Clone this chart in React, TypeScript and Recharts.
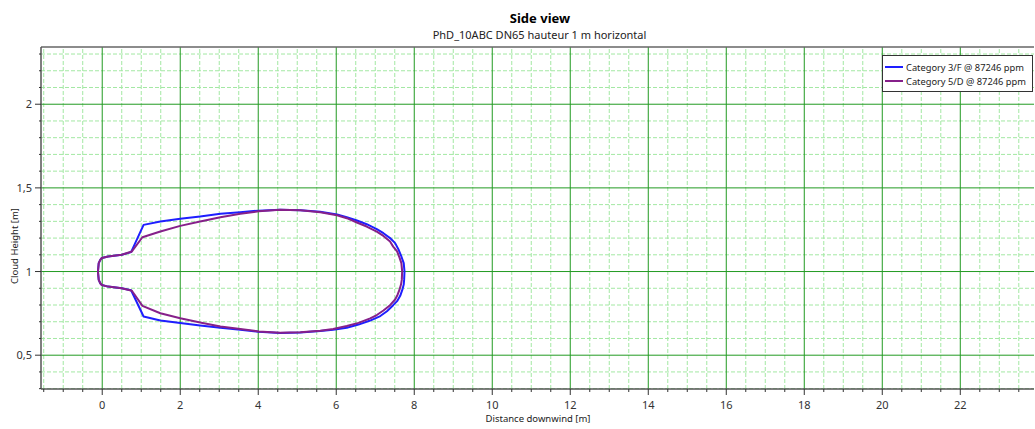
import React from 'react';
import { ComposedChart, Line, XAxis, YAxis, ReferenceLine, Legend } from 'recharts';

const FONT = '"Noto Sans", "Open Sans", sans-serif';

const X_MIN = -1.57;
const X_MAX = 23.89;
const Y_MIN = 0.298;
const Y_MAX = 2.342;

const xTicks = [-1.5, -1, -0.5, 0, 0.5, 1, 1.5, 2, 2.5, 3, 3.5, 4, 4.5, 5, 5.5, 6, 6.5, 7, 7.5, 8, 8.5, 9, 9.5, 10, 10.5, 11, 11.5, 12, 12.5, 13, 13.5, 14, 14.5, 15, 15.5, 16, 16.5, 17, 17.5, 18, 18.5, 19, 19.5, 20, 20.5, 21, 21.5, 22, 22.5, 23, 23.5];
const xLabelTicks = [0, 2, 4, 6, 8, 10, 12, 14, 16, 18, 20, 22];
const yTicks = [0.3, 0.4, 0.5, 0.6, 0.7, 0.8, 0.9, 1, 1.1, 1.2, 1.3, 1.4, 1.5, 1.6, 1.7, 1.8, 1.9, 2, 2.1, 2.2, 2.3];
const yLabelTicks = [0.5, 1, 1.5, 2];

const xMinorGrid = xTicks.filter((v) => !xLabelTicks.includes(v));
const yMinorGrid = yTicks.filter((v) => !yLabelTicks.includes(v));

const seriesNames = ['Category 3/F @ 87246 ppm', 'Category 5/D @ 87246 ppm'];
const seriesColors = ['#1e1eff', '#86208a'];

const category3F = [
  { x: -0.11, y: 1.0 },
  { x: -0.09, y: 1.05 },
  { x: -0.05, y: 1.07 },
  { x: -0.01, y: 1.081 },
  { x: 0.15, y: 1.09 },
  { x: 0.5, y: 1.1 },
  { x: 0.74, y: 1.116 },
  { x: 1.06, y: 1.279 },
  { x: 1.49, y: 1.299 },
  { x: 2.0, y: 1.315 },
  { x: 2.51, y: 1.329 },
  { x: 3.03, y: 1.345 },
  { x: 3.54, y: 1.355 },
  { x: 4.01, y: 1.364 },
  { x: 4.56, y: 1.369 },
  { x: 5.08, y: 1.366 },
  { x: 5.59, y: 1.357 },
  { x: 6.02, y: 1.341 },
  { x: 6.27, y: 1.325 },
  { x: 6.53, y: 1.305 },
  { x: 6.78, y: 1.283 },
  { x: 7.04, y: 1.253 },
  { x: 7.21, y: 1.229 },
  { x: 7.38, y: 1.2 },
  { x: 7.51, y: 1.17 },
  { x: 7.6, y: 1.13 },
  { x: 7.67, y: 1.09 },
  { x: 7.73, y: 1.05 },
  { x: 7.75, y: 1.0 },
  { x: 7.74, y: 0.95 },
  { x: 7.73, y: 0.922 },
  { x: 7.7, y: 0.895 },
  { x: 7.64, y: 0.855 },
  { x: 7.56, y: 0.823 },
  { x: 7.46, y: 0.799 },
  { x: 7.3, y: 0.763 },
  { x: 7.13, y: 0.734 },
  { x: 6.87, y: 0.707 },
  { x: 6.57, y: 0.683 },
  { x: 6.27, y: 0.664 },
  { x: 5.92, y: 0.652 },
  { x: 5.59, y: 0.644 },
  { x: 5.08, y: 0.636 },
  { x: 4.56, y: 0.633 },
  { x: 4.01, y: 0.64 },
  { x: 3.54, y: 0.652 },
  { x: 3.03, y: 0.664 },
  { x: 2.51, y: 0.677 },
  { x: 2.0, y: 0.692 },
  { x: 1.49, y: 0.707 },
  { x: 1.06, y: 0.731 },
  { x: 0.74, y: 0.888 },
  { x: 0.5, y: 0.9 },
  { x: 0.15, y: 0.91 },
  { x: -0.01, y: 0.919 },
  { x: -0.05, y: 0.93 },
  { x: -0.09, y: 0.95 },
  { x: -0.11, y: 1.0 },
];

const category5D = [
  { x: -0.11, y: 1.0 },
  { x: -0.09, y: 1.05 },
  { x: -0.05, y: 1.07 },
  { x: -0.01, y: 1.081 },
  { x: 0.15, y: 1.09 },
  { x: 0.5, y: 1.1 },
  { x: 0.76, y: 1.12 },
  { x: 1.03, y: 1.205 },
  { x: 1.49, y: 1.239 },
  { x: 2.0, y: 1.273 },
  { x: 2.51, y: 1.299 },
  { x: 3.03, y: 1.325 },
  { x: 3.54, y: 1.345 },
  { x: 4.01, y: 1.36 },
  { x: 4.56, y: 1.369 },
  { x: 5.08, y: 1.366 },
  { x: 5.59, y: 1.355 },
  { x: 6.02, y: 1.336 },
  { x: 6.27, y: 1.319 },
  { x: 6.53, y: 1.293 },
  { x: 6.78, y: 1.269 },
  { x: 7.04, y: 1.239 },
  { x: 7.21, y: 1.213 },
  { x: 7.38, y: 1.179 },
  { x: 7.46, y: 1.149 },
  { x: 7.56, y: 1.12 },
  { x: 7.62, y: 1.085 },
  { x: 7.67, y: 1.05 },
  { x: 7.69, y: 1.0 },
  { x: 7.68, y: 0.95 },
  { x: 7.66, y: 0.922 },
  { x: 7.62, y: 0.89 },
  { x: 7.57, y: 0.86 },
  { x: 7.51, y: 0.833 },
  { x: 7.38, y: 0.799 },
  { x: 7.21, y: 0.767 },
  { x: 7.04, y: 0.74 },
  { x: 6.87, y: 0.72 },
  { x: 6.57, y: 0.693 },
  { x: 6.27, y: 0.674 },
  { x: 5.92, y: 0.657 },
  { x: 5.59, y: 0.646 },
  { x: 5.08, y: 0.637 },
  { x: 4.56, y: 0.634 },
  { x: 4.01, y: 0.642 },
  { x: 3.54, y: 0.656 },
  { x: 3.03, y: 0.671 },
  { x: 2.51, y: 0.695 },
  { x: 2.0, y: 0.721 },
  { x: 1.49, y: 0.751 },
  { x: 1.03, y: 0.795 },
  { x: 0.76, y: 0.885 },
  { x: 0.5, y: 0.9 },
  { x: 0.15, y: 0.91 },
  { x: -0.01, y: 0.919 },
  { x: -0.05, y: 0.93 },
  { x: -0.09, y: 0.95 },
  { x: -0.11, y: 1.0 },
];

const seriesData = [category3F, category5D];

const fmt = (v: number) => String(v).replace('.', ',');

const XTick = (props: any) => {
  const { x, y, payload } = props;
  const v = payload.value;
  const major = xLabelTicks.includes(v);
  return (
    <g>
      <line x1={x} x2={x} y1={y} y2={y + (major ? 6 : 3)} stroke="#333" strokeWidth={1} />
      {major && (
        <text x={x} y={y + 20} textAnchor="middle" fontSize={11} fill="#333" fontFamily={FONT}>
          {fmt(v)}
        </text>
      )}
    </g>
  );
};

const YTick = (props: any) => {
  const { x, y, payload } = props;
  const v = payload.value;
  const major = yLabelTicks.includes(v);
  return (
    <g>
      <line x1={x - (major ? 6 : 2)} x2={x} y1={y} y2={y} stroke="#333" strokeWidth={1} />
      {major && (
        <text x={x - 9} y={y + 4} textAnchor="end" fontSize={11} fill="#333" fontFamily={FONT}>
          {fmt(v)}
        </text>
      )}
    </g>
  );
};

const renderLegend = () => (
  <div
    style={{
      border: '1px solid #333',
      background: '#fff',
      padding: '4px 2px 3px 2px',
      width: 151,
      height: 37,
      boxSizing: 'border-box',
      fontFamily: FONT,
      fontSize: 9.3,
      color: '#222',
    }}
  >
    {seriesNames.map((name, i) => (
      <div key={name} style={{ display: 'flex', alignItems: 'center', height: 14, whiteSpace: 'nowrap' }}>
        <span
          style={{
            display: 'inline-block',
            flexShrink: 0,
            width: 18,
            height: 2,
            background: seriesColors[i],
            marginRight: 3,
          }}
        />
        <span style={{ flexShrink: 0 }}>{name}</span>
      </div>
    ))}
  </div>
);

export default function App() {
  return (
    <div style={{ position: 'absolute', left: 0, top: 0, width: 1035, height: 429, background: '#fff' }}>
      <ComposedChart
        width={1035}
        height={429}
        margin={{ top: 47, right: 1, bottom: 0, left: 0 }}
      >
        <XAxis
          type="number"
          dataKey="x"
          domain={[X_MIN, X_MAX]}
          ticks={xTicks}
          interval={0}
          allowDataOverflow
          height={40}
          tickSize={0}
          tickMargin={0}
          tickLine={false}
          tick={<XTick />}
          axisLine={{ stroke: '#555', strokeWidth: 1.5 }}
        />
        <YAxis
          type="number"
          dataKey="y"
          domain={[Y_MIN, Y_MAX]}
          ticks={yTicks}
          interval={0}
          allowDataOverflow
          width={41}
          tickSize={0}
          tickMargin={0}
          tickLine={false}
          tick={<YTick />}
          axisLine={{ stroke: '#555', strokeWidth: 1.5 }}
        />
        {xMinorGrid.map((v) => (
          <ReferenceLine key={'xm' + v} x={v} stroke="#a3e8a3" strokeDasharray="4 2" strokeWidth={1} />
        ))}
        {yMinorGrid.map((v) => (
          <ReferenceLine key={'ym' + v} y={v} stroke="#a3e8a3" strokeDasharray="4 2" strokeWidth={1} />
        ))}
        {xLabelTicks.map((v) => (
          <ReferenceLine key={'xM' + v} x={v} stroke="#229a22" strokeWidth={1} />
        ))}
        {yLabelTicks.map((v) => (
          <ReferenceLine key={'yM' + v} y={v} stroke="#229a22" strokeWidth={1} />
        ))}
        <ReferenceLine y={Y_MAX} stroke="#666" strokeWidth={1.5} />
        {seriesData.map((d, i) => (
          <Line
            key={seriesNames[i]}
            data={d}
            dataKey="y"
            name={seriesNames[i]}
            type="linear"
            stroke={seriesColors[i]}
            strokeWidth={2}
            strokeLinejoin="round"
            dot={false}
            activeDot={false}
            isAnimationActive={false}
          />
        ))}
        <Legend
          layout="vertical"
          align="center"
          verticalAlign="middle"
          content={renderLegend}
          wrapperStyle={{ left: 882, top: 55, width: 151, height: 37 }}
        />
      </ComposedChart>
      <svg
        width={1035}
        height={429}
        style={{ position: 'absolute', left: 0, top: 0, pointerEvents: 'none' }}
      >
        <text x={540} y={22.5} textAnchor="middle" fontFamily={FONT} fontSize={13} fontWeight="bold" fill="#000">
          Side view
        </text>
        <text x={539.5} y={38.5} textAnchor="middle" fontFamily={FONT} fontSize={11} fill="#222">
          PhD_10ABC DN65 hauteur 1 m horizontal
        </text>
        <text x={538} y={422} textAnchor="middle" fontFamily={FONT} fontSize={9.5} fill="#222">
          Distance downwind [m]
        </text>
        <text
          x={0}
          y={0}
          transform="translate(18, 246) rotate(-90)"
          textAnchor="middle"
          fontFamily={FONT}
          fontSize={9.5}
          fill="#222"
        >
          Cloud Height [m]
        </text>
      </svg>
    </div>
  );
}
